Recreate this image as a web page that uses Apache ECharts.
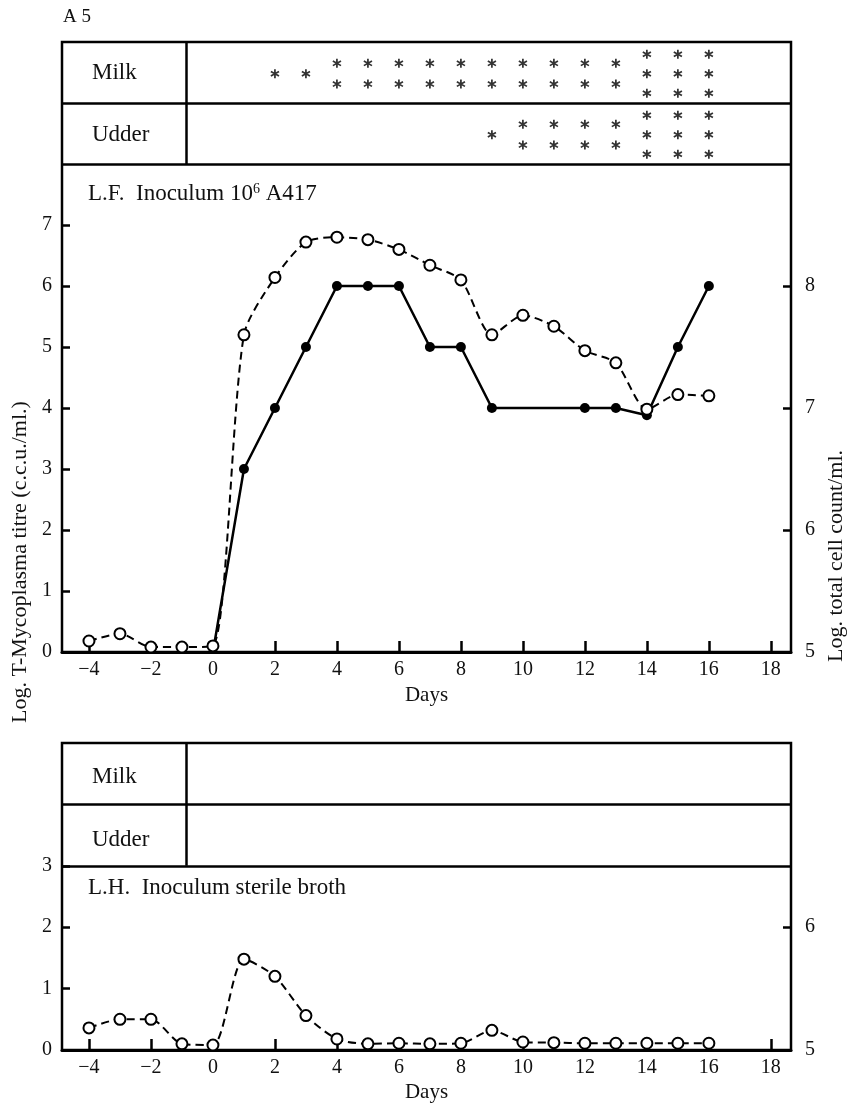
<!DOCTYPE html>
<html>
<head>
<meta charset="utf-8">
<script src="https://cdn.jsdelivr.net/npm/echarts@6/dist/echarts.min.js"></script>
<style>
  html, body { margin: 0; padding: 0; background: #fff; }
  #chart { width: 852px; height: 1107px; }
</style>
</head>
<body>
<div id="chart"></div>
<script>
// days of observation
const days = [-4, -3, -2, -1, 0, 1, 2, 3, 4, 5, 6, 7, 8, 9, 10, 11, 12, 13, 14, 15, 16]
const dayTicks = [-4, -2, 0, 2, 4, 6, 8, 10, 12, 14, 16, 18]

// L.F. quarter, inoculum 10^6 A417
const titreDays = [0, 1, 2, 3, 4, 5, 6, 7, 8, 9, 12, 13, 14, 15, 16]
const titreLF = [0, 3, 4, 5, 6, 6, 6, 5, 5, 4, 4, 4, 3.88, 5, 6]
const cellLF = [5.09, 5.15, 5.04, 5.04, 5.05, 7.6, 8.07, 8.36, 8.4, 8.38, 8.3, 8.17, 8.05, 7.6, 7.76, 7.67, 7.47, 7.37, 6.99, 7.11, 7.1]

// L.H. quarter, sterile broth
const cellLH = [5.18, 5.25, 5.25, 5.05, 5.04, 5.74, 5.6, 5.28, 5.09, 5.05, 5.055, 5.05, 5.055, 5.16, 5.065, 5.06, 5.055, 5.055, 5.055, 5.055, 5.055]

// number of asterisks in the Milk / Udder rows (L.F.)
const gradeDays = [2, 3, 4, 5, 6, 7, 8, 9, 10, 11, 12, 13, 14, 15, 16]
const milkGrade = [1, 1, 2, 2, 2, 2, 2, 2, 2, 2, 2, 2, 3, 3, 3]
const udderGrade = [0, 0, 0, 0, 0, 0, 0, 1, 2, 2, 2, 2, 3, 3, 3]

const leftTicksTop = [0, 1, 2, 3, 4, 5, 6, 7]
const rightTicksTop = [5, 6, 7, 8]
const leftTicksBottom = [0, 1, 2, 3]
const rightTicksBottom = [5, 6]

const FONT = 'Liberation Serif'
const INK = '#111'
const DIVIDER_DAY = -0.87
const ASTERISK = 'path://M8.3,1 L11.7,1 L11.7,19 L8.3,19 Z M1.3,6.9 L3.0,4.0 L18.7,13.1 L17.0,16.0 Z M3.0,16.0 L1.3,13.1 L17.0,4.0 L18.7,6.9 Z'

function stackOffsets(n) {
  if (n === 1) return [0]
  if (n === 2) return [0.17, -0.17]
  return [0.32, 0, -0.32]
}

function gradePoints(grades, rowMid) {
  const pts = []
  grades.forEach((n, i) => {
    if (!n) return
    stackOffsets(n).forEach(o => pts.push([gradeDays[i], rowMid + o]))
  })
  return pts
}

function xAxis(gridIndex) {
  return {
    type: 'value', gridIndex: gridIndex, min: -4.87, max: 18.65,
    axisLine: { show: true, onZero: false, lineStyle: { color: '#000', width: 3 } },
    axisTick: { show: true, inside: true, length: 11, customValues: dayTicks, lineStyle: { color: '#000', width: 2.5 } },
    axisLabel: {
      customValues: dayTicks, margin: 8, color: INK, fontFamily: FONT, fontSize: 20,
      formatter: v => (v < 0 ? '\u2212' + Math.abs(v) : String(v))
    },
    splitLine: { show: false },
    name: 'Days', nameLocation: 'middle', nameGap: 32,
    nameTextStyle: { color: INK, fontFamily: FONT, fontSize: 21 }
  }
}

function yAxis(gridIndex, min, max, ticks, side) {
  return {
    type: 'value', gridIndex: gridIndex, min: min, max: max, position: side,
    axisLine: { show: false, onZero: false },
    axisTick: { show: true, inside: true, length: 8, customValues: ticks, lineStyle: { color: '#000', width: 2.5 } },
    axisLabel: { customValues: ticks, margin: side === 'left' ? 10 : 14, color: INK, fontFamily: FONT, fontSize: 20 },
    splitLine: { show: false }
  }
}

function tableLines(xi, yi, yBase) {
  return {
    type: 'lines', coordinateSystem: 'cartesian2d', xAxisIndex: xi, yAxisIndex: yi,
    silent: true, polyline: false,
    lineStyle: { color: '#000', width: 2.5, opacity: 1 },
    data: [
      { coords: [[-4.87, yBase], [18.65, yBase]] },
      { coords: [[-4.87, yBase + 1], [18.65, yBase + 1]] },
      { coords: [[DIVIDER_DAY, yBase], [DIVIDER_DAY, yBase + 2]] }
    ]
  }
}

const openCircle = { color: '#fff', borderColor: '#000', borderWidth: 2 }
const dashed = { color: '#000', width: 2, type: [8, 5] }

function label(text, x, y, size) {
  return { type: 'text', x: x, y: y, style: { text: text, fill: INK, font: (size || 23) + 'px "' + FONT + '"', verticalAlign: 'middle' } }
}

const chart = echarts.init(document.getElementById('chart'), null, { renderer: 'canvas' })

chart.setOption({
  animation: false,
  backgroundColor: '#fff',
  grid: [
    { left: 62, right: 61, top: 42, height: 610, show: true, borderColor: '#000', borderWidth: 2.5 },
    { left: 62, right: 61, top: 743, height: 307, show: true, borderColor: '#000', borderWidth: 2.5 }
  ],
  xAxis: [xAxis(0), xAxis(1)],
  yAxis: [
    yAxis(0, 0, 10, leftTicksTop, 'left'),
    yAxis(0, 5, 10, rightTicksTop, 'right'),
    yAxis(1, 0, 5, leftTicksBottom, 'left'),
    yAxis(1, 5, 7.5, rightTicksBottom, 'right')
  ],
  graphic: [
    label('A 5', 63, 17, 19),
    label('Milk', 92, 73),
    label('Udder', 92, 135),
    {
      type: 'text', x: 88, y: 194,
      style: {
        text: '{a|L.F.  Inoculum 10}{s|6}{a| A417}', verticalAlign: 'middle',
        rich: {
          a: { fill: INK, fontFamily: FONT, fontSize: 23 },
          s: { fill: INK, fontFamily: FONT, fontSize: 14, verticalAlign: 'top', padding: [0, 0, 9, 0] }
        }
      }
    },
    label('Milk', 92, 777),
    label('Udder', 92, 840),
    label('L.H.  Inoculum sterile broth', 88, 888),
    {
      type: 'text', x: 20, y: 562, rotation: Math.PI / 2,
      style: { text: 'Log. T-Mycoplasma titre (c.c.u./ml.)', fill: INK, font: '22px "' + FONT + '"', align: 'center', verticalAlign: 'middle' }
    },
    {
      type: 'text', x: 836, y: 556, rotation: Math.PI / 2,
      style: { text: 'Log. total cell count/ml.', fill: INK, font: '22px "' + FONT + '"', align: 'center', verticalAlign: 'middle' }
    }
  ],
  series: [
    tableLines(0, 0, 8),
    tableLines(1, 2, 3),
    {
      type: 'scatter', xAxisIndex: 0, yAxisIndex: 0,
      symbol: ASTERISK, symbolSize: 9, itemStyle: { color: '#000' },
      data: gradePoints(milkGrade, 9.48)
    },
    {
      type: 'scatter', xAxisIndex: 0, yAxisIndex: 0,
      symbol: ASTERISK, symbolSize: 9, itemStyle: { color: '#000' },
      data: gradePoints(udderGrade, 8.48)
    },
    {
      type: 'line', xAxisIndex: 0, yAxisIndex: 0, z: 3,
      symbol: 'circle', symbolSize: 10, showAllSymbol: true,
      itemStyle: { color: '#000' }, lineStyle: { color: '#000', width: 2.5 },
      data: titreDays.map((d, i) => (i === 0 ? { value: [d, titreLF[i]], symbol: 'none' } : [d, titreLF[i]]))
    },
    {
      type: 'line', xAxisIndex: 0, yAxisIndex: 1, z: 4, smooth: 0.25,
      symbol: 'circle', symbolSize: 11, showAllSymbol: true,
      itemStyle: openCircle, lineStyle: dashed,
      data: days.map((d, i) => [d, cellLF[i]])
    },
    {
      type: 'line', xAxisIndex: 1, yAxisIndex: 3, z: 4, smooth: 0.25,
      symbol: 'circle', symbolSize: 11, showAllSymbol: true,
      itemStyle: openCircle, lineStyle: dashed,
      data: days.map((d, i) => [d, cellLH[i]])
    }
  ]
})
</script>
</body>
</html>
